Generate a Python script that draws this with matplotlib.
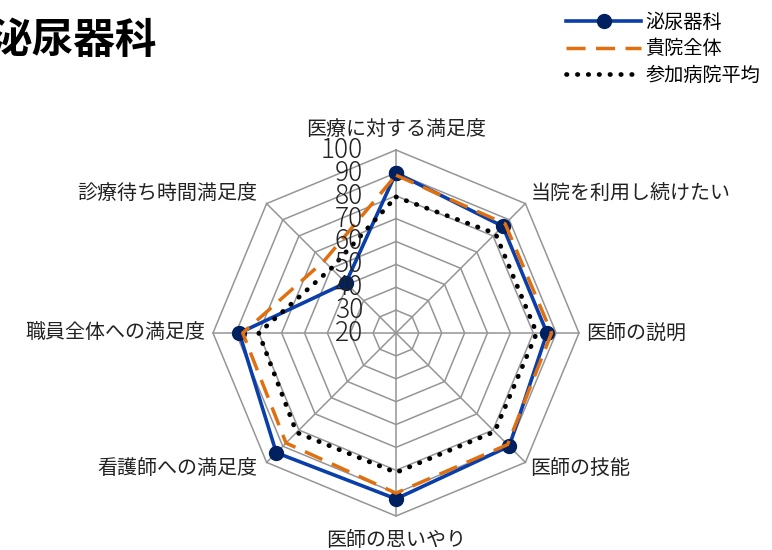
import numpy as np
import matplotlib
matplotlib.use('Agg')
import matplotlib.pyplot as plt
from matplotlib.lines import Line2D
from matplotlib.transforms import offset_copy

plt.rcParams['font.family'] = ['Noto Sans CJK JP', 'DejaVu Sans']

titulo = '泌尿器科'
categorias = ['医療に対する満足度', '当院を利用し続けたい', '医師の説明', '医師の技能',
              '医師の思いやり', '看護師への満足度', '職員全体への満足度', '診療待ち時間満足度']
hinyoki = [90, 86, 86, 90, 92.5, 94, 88.5, 51]
kiin_zentai = [89, 87.5, 88, 89, 90, 88, 87, 64.5]
sanka_heikin = [79.5, 81.5, 81.5, 81, 81, 81.5, 80, 60]
niveles = [20, 30, 40, 50, 60, 70, 80, 90, 100]

# posiciones de las etiquetas (dx, dy en pixeles, ha, va)
offsets_etiquetas = [(0, 10, 'center', 'bottom'), (5, 9, 'left', 'center'), (7, 0, 'left', 'center'),
                     (5, -6, 'left', 'center'), (0, -14, 'center', 'top'), (-9, -6, 'right', 'center'),
                     (-8, 0, 'right', 'center'), (-9, 9, 'right', 'center')]

color_grid = '#959595'
azul = '#0a3ea8'
azul_marcador = '#00205f'
naranja = '#e0700f'

n = len(categorias)
angulos = np.linspace(0, 2 * np.pi, n, endpoint=False)
ang_c = np.append(angulos, angulos[0])


def cerrar(v):
    return np.append(v, v[0])


fig = plt.figure(figsize=(7.72, 5.5), dpi=100)
ax = fig.add_axes([0.2759, 0.0618, 0.4741, 0.6655], projection='polar')
ax.set_theta_zero_location('N')
ax.set_theta_direction(-1)
ax.set_ylim(niveles[0], niveles[-1])
ax.grid(False)
ax.spines['polar'].set_visible(False)
ax.set_xticks([])
ax.set_yticks([])
ax.patch.set_visible(False)

# rejilla poligonal
for nivel in niveles[1:]:
    ax.plot(ang_c, [nivel] * (n + 1), color=color_grid, lw=1.1, clip_on=False, zorder=1)
for ang in angulos:
    ax.plot([ang, ang], [niveles[0], niveles[-1]], color=color_grid, lw=1.1, clip_on=False, zorder=1)

# series
estilo_punteado = (0, (0.1, 2.2))
ax.plot(ang_c, cerrar(hinyoki), color=azul, lw=2.6, marker='o', markersize=10,
        markerfacecolor=azul_marcador, markeredgecolor=azul_marcador, clip_on=False, zorder=3)
ax.plot(ang_c, cerrar(kiin_zentai), color=naranja, lw=2.5, linestyle=(0, (5.5, 3)), clip_on=False, zorder=4)
ax.plot(ang_c, cerrar(sanka_heikin), color='black', lw=3.4, linestyle=estilo_punteado,
        dash_capstyle='round', clip_on=False, zorder=5)

# etiquetas radiales
trans_r = offset_copy(ax.transData, fig=fig, x=-33, y=0, units='dots')
for nivel in niveles:
    ax.text(0, nivel, str(nivel), transform=trans_r, ha='right', va='center',
            fontsize=19, fontweight='light', color='#222222', zorder=6)

# etiquetas de categorias
for ang, cat, (dx, dy, ha, va) in zip(angulos, categorias, offsets_etiquetas):
    tr = offset_copy(ax.transData, fig=fig, x=dx, y=dy, units='dots')
    ax.text(ang, niveles[-1], cat, transform=tr, ha=ha, va=va, fontsize=14.4, color='#222222')

fig.text(-0.012, 0.926, titulo, fontsize=30, fontweight='bold', ha='left', va='center')

handles = [
    Line2D([], [], color=azul, lw=2.6, marker='o', markersize=10,
           markerfacecolor=azul_marcador, markeredgecolor=azul_marcador),
    Line2D([], [], color=naranja, lw=2.5, linestyle=(0, (5.5, 3))),
    Line2D([], [], color='black', lw=3.4, linestyle=estilo_punteado, dash_capstyle='round'),
]
fig.legend(handles, ['泌尿器科', '貴院全体', '参加病院平均'], loc='upper right',
           bbox_to_anchor=(1.0, 1.0), frameon=False, fontsize=13.8, handlelength=3.9,
           handletextpad=0.25, labelspacing=0.3, borderaxespad=0.2)

fig.savefig('out.png', dpi=100)
